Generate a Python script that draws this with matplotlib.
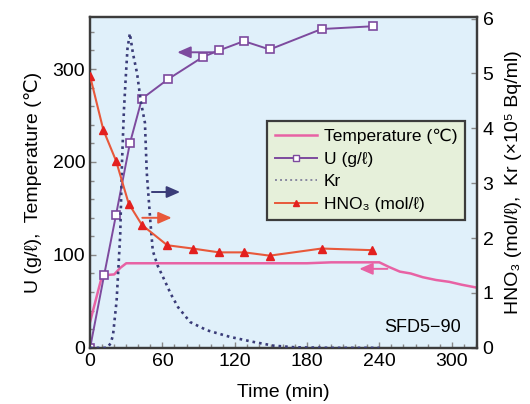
import matplotlib.pyplot as plt
from matplotlib.lines import Line2D
from matplotlib.ticker import MultipleLocator

plt.rcParams['font.family'] = ['Liberation Sans', 'DejaVu Sans']

# U (g/l), left axis
u_t = [0, 11.6, 21.5, 33, 43, 64.6, 93.6, 107, 127.6, 149, 192, 234.5]
u_v = [0, 78, 143, 220, 268, 289, 313, 320, 330, 321, 343, 346]

# HNO3 (mol/l), right axis
hno3_t = [0, 11, 21.5, 32, 43, 64, 85, 107, 128, 149, 192, 234]
hno3_v = [4.95, 3.97, 3.41, 2.63, 2.24, 1.87, 1.81, 1.74, 1.74, 1.68, 1.81, 1.78]

# Temperature (C), left axis
temp_t = [0, 10, 20, 25, 30, 60, 100, 140, 180, 200, 240, 248, 257, 266, 276, 287, 298, 308, 320]
temp_v = [28, 78, 79, 86, 91, 91, 91, 91, 91, 92, 92, 87, 82, 80, 76, 73, 71, 68, 65]

# Kr (x10^5 Bq/ml), right axis
kr_t = [0, 10, 14, 17, 19, 22, 25, 26.5, 28, 29.5, 31, 33, 35.5, 39, 42, 45.5, 47,
        50, 52, 56, 62, 67, 73, 83, 97, 116, 135, 152, 170, 200, 240]
kr_v = [0, 0, 0, 0.08, 0.23, 0.86, 2.07, 3.4, 4.3, 4.9, 5.45, 5.73, 5.37, 5.0, 4.5,
        4.1, 3.2, 2.3, 1.77, 1.5, 1.22, 0.98, 0.74, 0.47, 0.32, 0.2, 0.11, 0.04, 0.01, 0, 0]

c_u = '#7d4a9e'
c_h = '#e8583a'
c_hm = '#e3201f'
c_t = '#e862a4'
c_kr = '#3a3c78'
c_spine = '#3c3c3c'

fig = plt.figure(figsize=(5.30, 4.04), dpi=100)
ax = fig.add_axes([0.170, 0.139, 0.730, 0.819])
ax2 = ax.twinx()
ax.set_facecolor('#e0f0fa')

ax.plot(temp_t, temp_v, color=c_t, lw=1.8, zorder=2)
ax.plot(u_t, u_v, color=c_u, lw=1.4, marker='s', ms=5.2, mfc='white',
        mec=c_u, mew=1.2, zorder=4)
ax2.plot(kr_t, kr_v, color=c_kr, lw=1.9, ls=(0, (1, 1.5)), zorder=3)
ax2.plot(hno3_t, hno3_v, color=c_h, lw=1.5, marker='^', ms=5.5, mfc=c_hm,
         mec=c_hm, zorder=4)

ax.set_xlim(0, 321)
ax.set_ylim(0, 356)
ax2.set_ylim(0, 6.03)

ax.set_xticks([0, 60, 120, 180, 240, 300])
ax.xaxis.set_minor_locator(MultipleLocator(10))
ax.set_yticks([0, 100, 200, 300])
ax.yaxis.set_minor_locator(MultipleLocator(20))
ax2.set_yticks([0, 1, 2, 3, 4, 5, 6])

for a in (ax, ax2):
    for s in a.spines.values():
        s.set_color(c_spine)
        s.set_linewidth(1.6)
ax.tick_params(which='both', direction='in', colors='#888888', labelcolor='black',
               labelsize=14)
ax.tick_params(which='major', length=4, width=1)
ax.tick_params(which='minor', length=3, width=1)
ax2.tick_params(direction='in', length=4, width=1, colors='#888888',
                labelcolor='black', labelsize=14, pad=4)

ax.set_xlabel('Time (min)', fontsize=14, labelpad=10)
ax.set_ylabel('U (g/ℓ),  Temperature (℃)', fontsize=14, labelpad=8)
ax2.set_ylabel('HNO₃ (mol/ℓ),  Kr (×10⁵ Bq/ml)', fontsize=14, labelpad=8)

# direction arrows
ax.annotate('', xy=(70, 318), xytext=(106, 318),
            arrowprops=dict(arrowstyle='-|>,head_length=0.8,head_width=0.35',
                            color=c_u, lw=1.4))
ax.annotate('', xy=(221, 85), xytext=(249, 85),
            arrowprops=dict(arrowstyle='-|>,head_length=0.8,head_width=0.35',
                            color=c_t, lw=1.4))
ax2.annotate('', xy=(77, 2.84), xytext=(49, 2.84),
             arrowprops=dict(arrowstyle='-|>,head_length=0.8,head_width=0.35',
                             color=c_kr, lw=1.4))
ax2.annotate('', xy=(70, 2.37), xytext=(41, 2.37),
             arrowprops=dict(arrowstyle='-|>,head_length=0.8,head_width=0.35',
                             color=c_h, lw=1.4))

ax2.text(0.86, 0.06, 'SFD5−90', transform=ax2.transAxes, fontsize=13,
         ha='center', va='center')

handles = [
    Line2D([], [], color=c_t, lw=1.8),
    Line2D([], [], color=c_u, lw=1.4, marker='s', ms=4.5, mfc='white', mec=c_u),
    Line2D([], [], color='#8888a0', lw=1.4, ls=(0, (1, 1.6))),
    Line2D([], [], color=c_h, lw=1.4, marker='^', ms=4.5, mfc=c_hm, mec=c_hm),
]
labels = ['Temperature (℃)', 'U (g/ℓ)', 'Kr', 'HNO₃ (mol/ℓ)']
leg = ax2.legend(handles, labels, loc='upper left', bbox_to_anchor=(0.458, 0.685),
                 borderaxespad=0, fontsize=12.5, frameon=True, fancybox=False,
                 framealpha=1, facecolor='#e6f0da', edgecolor=c_spine,
                 handlelength=2.4, handletextpad=0.4, labelspacing=0.42,
                 borderpad=0.45)
leg.get_frame().set_linewidth(1.6)
leg.set_zorder(10)

fig.savefig('out.png', dpi=100)
